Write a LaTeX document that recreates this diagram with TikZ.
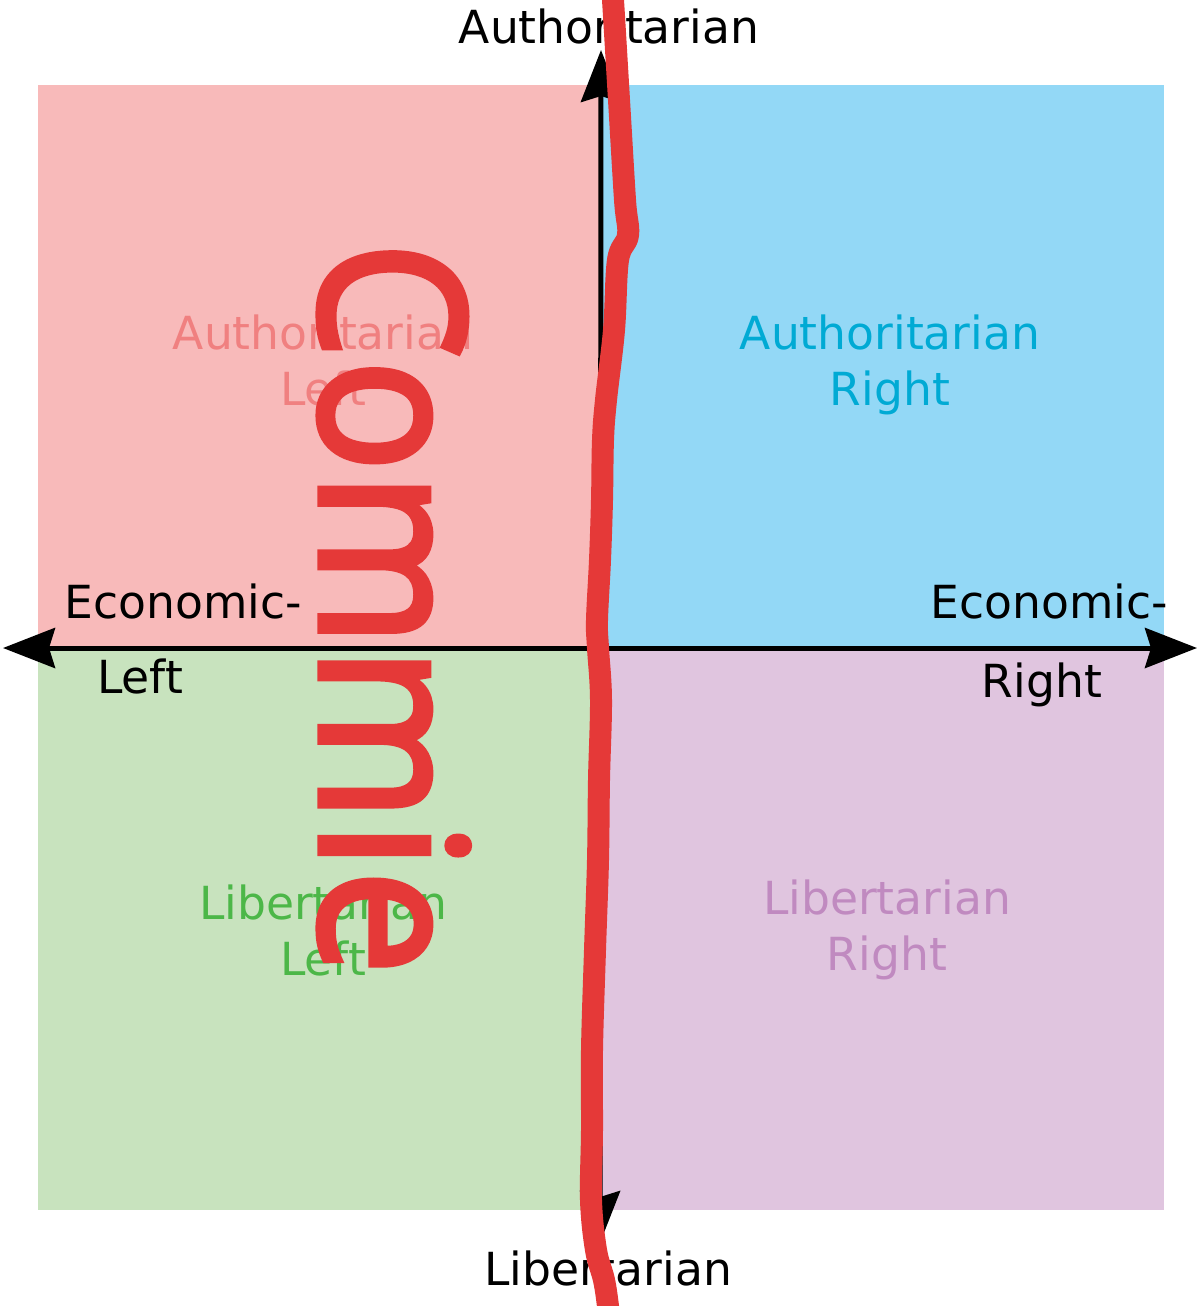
\documentclass[tikz,border=0pt]{standalone}
\usepackage{fontspec}
\setmainfont{DejaVu Sans}
\newfontfamily\commiefont[FakeBold=2.5]{Noto Sans}
\usetikzlibrary{arrows.meta}

\definecolor{alfill}{RGB}{248,186,186}
\definecolor{arfill}{RGB}{147,216,246}
\definecolor{llfill}{RGB}{200,227,190}
\definecolor{lrfill}{RGB}{224,197,223}
\definecolor{altext}{RGB}{240,128,128}
\definecolor{artext}{RGB}{0,170,212}
\definecolor{lltext}{RGB}{76,183,72}
\definecolor{lrtext}{RGB}{192,138,192}
\definecolor{commiered}{RGB}{229,57,56}

\begin{document}
\begin{tikzpicture}[
    x=0.5pt, y=-0.5pt,
    axisline/.style={
        line width=2.5pt,
        {Stealth[length=26pt,width=20pt,inset=3pt]}-{Stealth[length=26pt,width=20pt,inset=3pt]}
    },
    quadlabel/.style={font=\fontsize{22.8}{28}\selectfont, align=center, anchor=base},
    axislabel/.style={font=\fontsize{22.8}{28}\selectfont, anchor=base},
    scribble/.style={draw=commiered, line width=11pt, line cap=round, line join=round}
]
\useasboundingbox (0,0) rectangle (1200,1306);

% Quadrants
\fill[alfill] (38,85) rectangle (600,648);
\fill[arfill] (600,85) rectangle (1164,648);
\fill[llfill] (38,648) rectangle (600,1210);
\fill[lrfill] (600,648) rectangle (1164,1210);

% Axes
\coordinate (west) at (3,648);
\coordinate (east) at (1197,648);
\coordinate (north) at (601,50);
\coordinate (south) at (600,1243);
\draw[axisline] (west) -- (east);
\draw[axisline] (south) -- (north);

% Quadrant labels (anchored on the second line)
\node[quadlabel, text=altext] (authleft) at (323,405) {Authoritarian\\Left};
\node[quadlabel, text=artext] (authright) at (890,405) {Authoritarian\\Right};
\node[quadlabel, text=lltext] (libleft) at (323,975) {Libertarian\\Left};
\node[quadlabel, text=lrtext] (libright) at (887,970) {Libertarian\\Right};

% Axis labels
\node[axislabel] (authtop) at (609,43) {Authoritarian};
\node[axislabel] (libbottom) at (608,1285) {Libertarian};
\node[axislabel] (econleft) at (183,618) {Economic-};
\node[axislabel] (leftword) at (140,693) {Left};
\node[axislabel] (econright) at (1049,618) {Economic-};
\node[axislabel] (rightword) at (1042,697) {Right};

% Scrawl
\node[rotate=-90, anchor=base, inner sep=0pt, text=commiered] (commie) at (320,608)
    {\commiefont\fontsize{101.5}{101.5}\selectfont\scalebox{0.92}[1]{Commie}};
\draw[scribble] plot[smooth, tension=0.6] coordinates {
    (612,-10) (613,0) (619,100) (625,200) (628,235) (618,260) (614,330)
    (606,400) (603,440) (602,500) (600,560) (597,620) (598,648) (601,700)
    (599,780) (598,860) (595,950) (592,1050) (592,1130) (591,1200)
    (596,1250) (604,1280) (608,1306) (609,1316)};

\end{tikzpicture}
\end{document}
